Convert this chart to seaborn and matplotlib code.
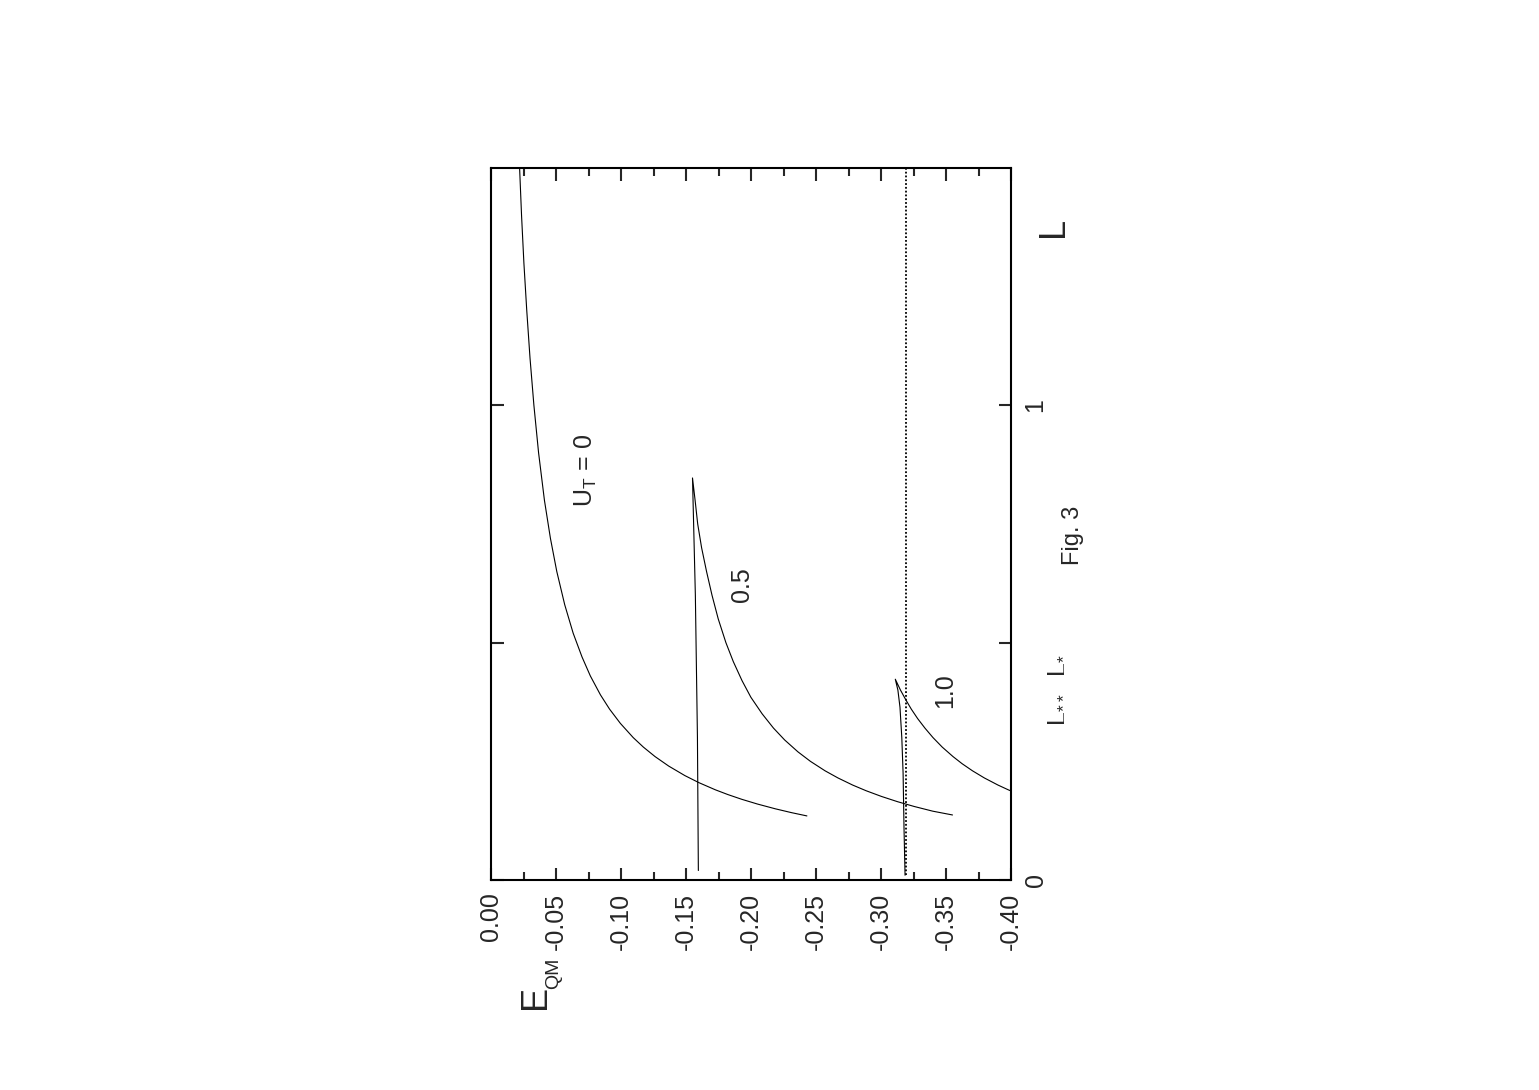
import pandas as pd
import matplotlib
matplotlib.use("Agg")
import matplotlib.pyplot as plt
import seaborn as sns

# curves: L (length) and E_QM (energy)
ut0_L = [1.50, 1.40, 1.30, 1.20, 1.10, 1.00, 0.90, 0.80, 0.72, 0.65, 0.58, 0.52, 0.47, 0.43,
         0.39, 0.36, 0.33, 0.30, 0.28, 0.26, 0.24, 0.22, 0.205, 0.19, 0.18, 0.17, 0.16, 0.15,
         0.142, 0.135]
ut0_E = [-0.0220, -0.0235, -0.0253, -0.0275, -0.0300, -0.0330, -0.0366, -0.0411, -0.0457,
         -0.0506, -0.0567, -0.0632, -0.0700, -0.0764, -0.0842, -0.0912, -0.0995, -0.1094,
         -0.1172, -0.1262, -0.1367, -0.1491, -0.1600, -0.1726, -0.1822, -0.1929, -0.2050,
         -0.2187, -0.2310, -0.2430]

ut05_L = [0.02, 0.30, 0.60, 0.847, 0.80, 0.75, 0.70, 0.65, 0.60, 0.55, 0.50, 0.46, 0.42,
          0.385, 0.35, 0.32, 0.295, 0.27, 0.25, 0.23, 0.215, 0.20, 0.188, 0.176, 0.165,
          0.155, 0.145, 0.137]
ut05_E = [-0.1595, -0.1588, -0.1572, -0.1550, -0.1570, -0.1590, -0.1620, -0.1658, -0.1700,
          -0.1748, -0.1807, -0.1864, -0.1931, -0.1999, -0.2086, -0.2173, -0.2259, -0.2361,
          -0.2457, -0.2570, -0.2669, -0.2782, -0.2886, -0.3004, -0.3127, -0.3254, -0.3398,
          -0.3550]

ut10_L = [0.01, 0.11, 0.225, 0.30, 0.364, 0.40, 0.423, 0.40, 0.38, 0.36, 0.34, 0.32, 0.30,
          0.28, 0.26, 0.245, 0.23, 0.215, 0.20, 0.19, 0.18]
ut10_E = [-0.3185, -0.3177, -0.3170, -0.3160, -0.3146, -0.3130, -0.3110, -0.3150, -0.3190,
          -0.3233, -0.3282, -0.3338, -0.3400, -0.3471, -0.3554, -0.3624, -0.3704, -0.3795,
          -0.3900, -0.3979, -0.4067]

ref_L = [0.01, 1.50]
ref_E = [-0.319, -0.319]

e_ticks = [0.0, -0.05, -0.10, -0.15, -0.20, -0.25, -0.30, -0.35, -0.40]
e_labels = ["0.00", "-0.05", "-0.10", "-0.15", "-0.20", "-0.25", "-0.30", "-0.35", "-0.40"]
l_ticks = [0, 0.5, 1]
l_labels = ["0", "", "1"]

sns.set_style("white")
plt.rcParams["font.family"] = ["Liberation Sans", "DejaVu Sans"]
plt.rcParams["mathtext.default"] = "regular"
plt.rcParams["axes.unicode_minus"] = False

W, H = 1539, 1090
fig = plt.figure(figsize=(W / 100, H / 100), dpi=100)
ax = fig.add_axes([491 / W, 1 - 880 / H, 520 / W, 712 / H])

for L, E in [(ut0_L, ut0_E), (ut05_L, ut05_E), (ut10_L, ut10_E)]:
    df = pd.DataFrame({"E": E, "L": L})
    sns.lineplot(data=df, x="E", y="L", sort=False, estimator=None,
                 color="black", lw=0.8, ax=ax)

df_ref = pd.DataFrame({"E": ref_E, "L": ref_L})
sns.lineplot(data=df_ref, x="E", y="L", sort=False, estimator=None,
             color="black", lw=1.3, linestyle=(0, (1, 1.1)), ax=ax)

ax.set_xlim(0, -0.40)
ax.set_ylim(0, 1.5)
ax.set_xlabel("")
ax.set_ylabel("")

ax.set_xticks(e_ticks)
ax.set_xticklabels(e_labels)
ax.set_xticks([-0.025 - 0.05 * i for i in range(8)], minor=True)
ax.set_yticks(l_ticks)
ax.set_yticklabels(l_labels)

ax.tick_params(axis="x", which="major", direction="in", length=9, width=1.5,
               top=True, bottom=True, labelrotation=90, labelsize=18, pad=9)
ax.tick_params(axis="x", which="minor", direction="in", length=5.5, width=1.5,
               top=True, bottom=True)
ax.tick_params(axis="y", which="major", direction="in", length=9, width=1.5,
               left=True, right=True, labelleft=False, labelright=True,
               labelrotation=90, labelsize=18, pad=9)
for lab in ax.get_yticklabels():
    lab.set_va("center")

for s in ax.spines.values():
    s.set_linewidth(1.5)
    s.set_color("black")

# curve labels
ax.text(-0.0731, 0.863, "U$_T$ = 0", rotation=90, ha="center", va="center", fontsize=18)
ax.text(-0.1931, 0.623, "0.5", rotation=90, ha="center", va="center", fontsize=18)
ax.text(-0.349, 0.398, "1.0", rotation=90, ha="center", va="center", fontsize=18)

# axis labels and annotations outside the box
fig.text(1054 / W, 1 - 227 / H, "L", rotation=90, ha="center", va="center", fontsize=26)
fig.text(536 / W, 1 - 997 / H, "E", rotation=90, ha="center", va="center", fontsize=26)
fig.text(554 / W, 1 - 973 / H, "QM", rotation=90, ha="center", va="center", fontsize=14)
fig.text(1055 / W, 1 - 690 / H, "L$_{**}$  L$_{*}$", rotation=90, ha="center", va="center", fontsize=18)
fig.text(1073 / W, 1 - 535 / H, "Fig. 3", rotation=90, ha="center", va="center", fontsize=17)

plt.savefig("out.png", dpi=100)
